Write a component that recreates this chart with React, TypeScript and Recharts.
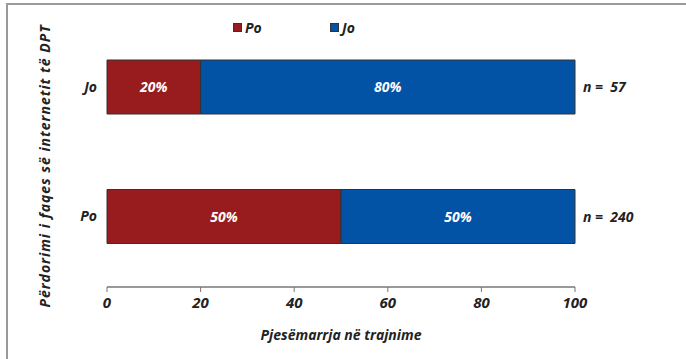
import React from 'react';
import { BarChart, Bar, XAxis, YAxis, LabelList, Legend } from 'recharts';

const categories = ['Jo', 'Po'];
const poValues = [20, 50];
const joValues = [80, 50];
const nValues = [57, 240];
const xTicks = [0, 20, 40, 60, 80, 100];

const data = categories.map((c, i) => ({ name: c, po: poValues[i], jo: joValues[i], n: nValues[i] }));

const FONT = '"Open Sans", Lato, sans-serif';
const RED = '#981B1E';
const BLUE = '#0253A5';

const NLabel = (props: any) => {
  const { x, y, width, height, index } = props;
  return (
    <text
      x={Number(x) + Number(width) + 8}
      y={Number(y) + Number(height) / 2}
      dy={5}
      fontFamily={FONT}
      fontStyle="italic"
      fontWeight={700}
      fontSize={14}
      fill="#222"
      xmlSpace="preserve"
      style={{ whiteSpace: 'pre' }}
    >
      {`n =  ${nValues[index]}`}
    </text>
  );
};

const PctLabel = (props: any) => {
  const { x, y, width, height, value } = props;
  return (
    <text
      x={Number(x) + Number(width) / 2}
      y={Number(y) + Number(height) / 2}
      dy={5}
      textAnchor="middle"
      fontFamily={FONT}
      fontStyle="italic"
      fontWeight={700}
      fontSize={14}
      fill="#fff"
    >
      {`${value}%`}
    </text>
  );
};

const LegendContent = () => (
  <div style={{ position: 'relative', height: 20, fontFamily: FONT, fontStyle: 'italic', fontWeight: 700, fontSize: 14, color: '#222' }}>
    <div style={{ position: 'absolute', left: 233, top: 0, display: 'flex', alignItems: 'center' }}>
      <span style={{ display: 'inline-block', width: 7, height: 7, background: RED, border: '1px solid #333', marginRight: 3 }} />
      Po
    </div>
    <div style={{ position: 'absolute', left: 330, top: 0, display: 'flex', alignItems: 'center' }}>
      <span style={{ display: 'inline-block', width: 7, height: 7, background: BLUE, border: '1px solid #333', marginRight: 3 }} />
      Jo
    </div>
  </div>
);

export default function App() {
  return (
    <div style={{ position: 'absolute', left: 0, top: 0, width: 686, height: 359, background: '#fff' }}>
      <div style={{ position: 'absolute', left: 6, top: 3, width: 680, height: 356, borderLeft: '2px solid #9a9a9a', borderTop: '2px solid #9a9a9a' }} />
      <div
        style={{
          position: 'absolute',
          left: 44,
          top: 166,
          transform: 'translate(-50%, -50%) rotate(-90deg)',
          whiteSpace: 'nowrap',
          fontFamily: FONT,
          fontStyle: 'italic',
          fontWeight: 700,
          fontSize: 14,
          letterSpacing: 1,
          color: '#222',
        }}
      >
        Përdorimi i faqes së internetit të DPT
      </div>
      <div style={{ position: 'absolute', left: 0, top: 0 }}>
        <BarChart
          width={686}
          height={359}
          data={data}
          layout="vertical"
          margin={{ top: 2, right: 111, bottom: 42, left: 47 }}
          barCategoryGap={38}
        >
          <XAxis
            type="number"
            domain={[0, 100]}
            ticks={xTicks}
            height={30}
            axisLine={{ stroke: '#777', strokeWidth: 1.5 }}
            tickLine={{ stroke: '#777' }}
            tickSize={5}
            tick={{ fontFamily: FONT, fontStyle: 'italic', fontWeight: 700, fontSize: 15, fill: '#222' }}
            tickMargin={5}
            label={{ value: 'Pjesëmarrja në trajnime', position: 'insideBottom', offset: -23, fontFamily: FONT, fontStyle: 'italic', fontWeight: 700, fontSize: 14, fill: '#222' }}
          />
          <YAxis
            type="category"
            dataKey="name"
            width={60}
            axisLine={false}
            tickLine={false}
            tickSize={0}
            tickMargin={10}
            padding={{ top: 0, bottom: 6 }}
            tick={{ fontFamily: FONT, fontStyle: 'italic', fontWeight: 700, fontSize: 14, fill: '#222' }}
          />
          <Legend verticalAlign="top" align="left" height={20} content={<LegendContent />} wrapperStyle={{ top: 18, left: 0, width: 686 }} />
          <Bar dataKey="po" stackId="a" fill={RED} stroke="#333" strokeWidth={1} isAnimationActive={false}>
            <LabelList dataKey="po" content={<PctLabel />} />
          </Bar>
          <Bar dataKey="jo" stackId="a" fill={BLUE} stroke="#333" strokeWidth={1} isAnimationActive={false}>
            <LabelList dataKey="jo" content={<PctLabel />} />
            <LabelList dataKey="n" content={<NLabel />} />
          </Bar>
        </BarChart>
      </div>
    </div>
  );
}
